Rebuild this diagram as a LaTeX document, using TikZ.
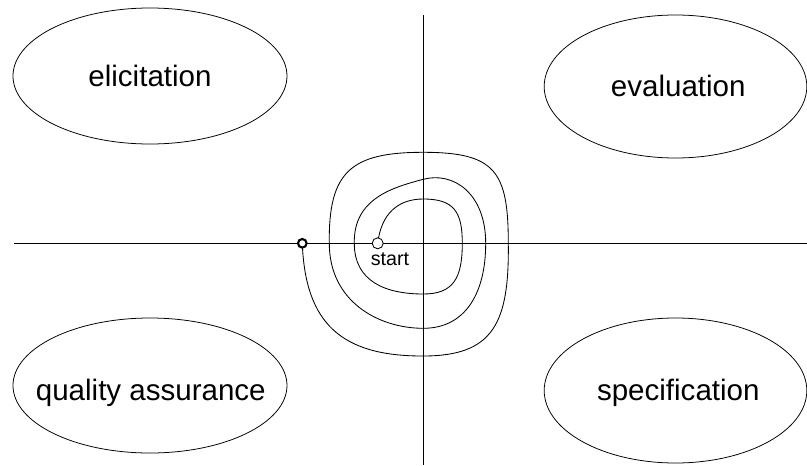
\documentclass[tikz,border=0pt]{standalone}
\usepackage{fontspec}
\setmainfont{Liberation Sans}
\usepackage{tikz}
\usetikzlibrary{arrows.meta,positioning,calc}

\begin{document}
\begin{tikzpicture}[scale=0.025,
    phase/.style={font=\fontsize{21}{25}\selectfont, anchor=base},
    blob/.style={line width=0.55pt}]
      \useasboundingbox (-423.3,-221.7) rectangle (383.7,243.3);
      % axes
      \draw[line width=0.8pt] (-409.3,0) -- (383.7,0);
      \draw[line width=0.8pt] (0,228.3) -- (0,-221.7);
      % the four phases
      \draw[blob] (-273.3,167.3) ellipse (137 and 68);
      \draw[blob] (252.2,156.8) ellipse (131.3 and 71.5);
      \draw[blob] (-273.3,-142.2) ellipse (137 and 67.5);
      \draw[blob] (252.2,-147.2) ellipse (131.3 and 72.5);
      \node[phase] (elicit) at (-273.3,157.3) {elicitation};
      \node[phase] (eval) at (255,147.3) {evaluation};
      \node[phase] (qa) at (-272.5,-156.7) {quality assurance};
      \node[phase] (spec) at (255,-156.7) {specification};
      % spiral
      \draw[line width=0.6pt] (-45.6,0) .. controls (-42,30) and (-25,44.3) .. (0,44.3)
        .. controls (31,44.3) and (39,31) .. (39,0)
        .. controls (39,-35) and (30,-50.7) .. (0,-50.7)
        .. controls (-38,-50.7) and (-69,-38) .. (-69,0)
        .. controls (-70,45) and (-30,56) .. (0,64)
        .. controls (30,72) and (62.4,50) .. (62.4,0)
        .. controls (62.4,-50) and (42,-85) .. (0,-85)
        .. controls (-45,-85) and (-94,-58) .. (-94,0)
        .. controls (-95,72) and (-72,91) .. (0,91)
        .. controls (72,91) and (85,72) .. (85,0)
        .. controls (86,-80) and (70,-112.7) .. (0,-112.7)
        .. controls (-82,-113) and (-118,-80) .. (-121,0);
      \draw[line width=0.6pt, fill=white] (-45.6,0) circle (5.5);
      \draw[line width=1.5pt, fill=white] (-121,0) circle (4.3);
      \node[font=\fontsize{14}{16}\selectfont, anchor=base] (start) at (-33.3,-21.7) {start};
    \end{tikzpicture}
\end{document}
